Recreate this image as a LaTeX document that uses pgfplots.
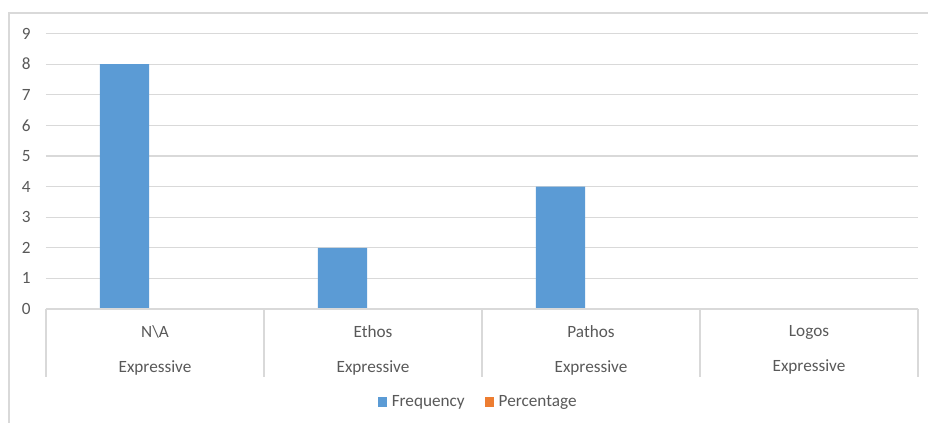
\documentclass[border=0pt]{standalone}
\usepackage{pgfplots}
\pgfplotsset{compat=1.18}
\usepackage{fontspec}
\setmainfont{Carlito}
\definecolor{barblue}{RGB}{91,155,213}
\definecolor{barorange}{RGB}{237,125,49}
\definecolor{gridgray}{RGB}{217,217,217}
\definecolor{textgray}{RGB}{89,89,89}
\newcommand{\lblfont}{\fontsize{12.9}{26}\selectfont}

\begin{document}
\begin{tikzpicture}
\useasboundingbox (0,0) rectangle (696pt,317.25pt);
% chart frame (top and left edges)
\draw[gridgray, line width=0.9pt] (6.75pt,0) -- (6.75pt,307.5pt) -- (696pt,307.5pt);
\begin{axis}[
  at={(34.5pt,85.5pt)}, anchor=south west,
  scale only axis,
  width=654pt, height=206.6pt,
  xmin=-0.5, xmax=3.5,
  ymin=0, ymax=9,
  ytick={0,1,...,9},
  xtick={0,1,2,3},
  xticklabels={{N\textbackslash A\\Expressive},{Ethos\\Expressive},{Pathos\\Expressive},{Logos\\Expressive}},
  xticklabel style={align=center, font=\lblfont, text=textgray, anchor=north, yshift=-9pt},
  yticklabel style={font=\lblfont, text=textgray, xshift=-8pt},
  /pgf/number format/assume math mode=true,
  major tick length=0pt,
  axis line style={draw=none},
  ymajorgrids,
  grid style={gridgray, line width=0.9pt},
  clip=false,
  ybar, bar width=0.225,
  legend style={draw=none, at={(0.496,-0.3376)}, anchor=center,
    font=\lblfont, text=textgray, legend columns=2,
    /tikz/every odd column/.append style={column sep=1.5pt},
    /tikz/every even column/.append style={column sep=13pt},
    inner sep=0pt},
  legend image code/.code={\fill[#1] (0pt,-3.5pt) rectangle (7pt,3.5pt);},
]
\addplot[fill=barblue, draw=none, bar shift=-0.14] coordinates {(0,8) (1,2) (2,4) (3,0)};
\addplot[fill=barorange, draw=none, bar shift=0.085] coordinates {(0,0) (1,0) (2,0) (3,0)};
\legend{Frequency, Percentage}
% category axis line and group separators
\draw[gridgray, line width=0.9pt] (axis cs:-0.5,0) -- (axis cs:3.5,0);
\pgfplotsinvokeforeach{-0.5,0.5,1.5,2.5,3.5}{
  \draw[gridgray, line width=0.9pt] (axis cs:#1,0) -- ++(0pt,-51pt);
}
\end{axis}
\end{tikzpicture}
\end{document}
